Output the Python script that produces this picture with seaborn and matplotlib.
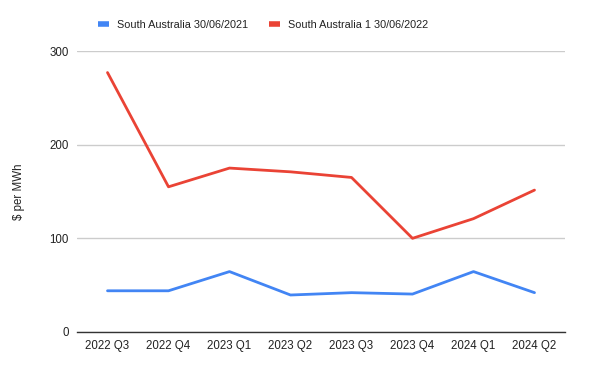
import numpy as np
import pandas as pd
import matplotlib
matplotlib.use("Agg")
import matplotlib.pyplot as plt
import seaborn as sns
from matplotlib.lines import Line2D

quarters = ["2022 Q3", "2022 Q4", "2023 Q1", "2023 Q2", "2023 Q3", "2023 Q4", "2024 Q1", "2024 Q2"]
sa_2021 = [44, 44, 64.5, 39.5, 42, 40.5, 64.5, 42]
sa_2022 = [277, 155, 175, 171, 165, 100, 121, 151.5]
series_names = ["South Australia 30/06/2021", "South Australia 1 30/06/2022"]
colors = ["#4285F4", "#EA4335"]

df = pd.concat([
    pd.DataFrame({"Quarter": quarters, "Price": sa_2021, "Series": series_names[0]}),
    pd.DataFrame({"Quarter": quarters, "Price": sa_2022, "Series": series_names[1]}),
], ignore_index=True)
df["x"] = df["Quarter"].map({q: i for i, q in enumerate(quarters)})

sns.set_style("white")
plt.rcParams['font.family'] = ['Liberation Sans', 'DejaVu Sans']

fig = plt.figure(figsize=(6, 3.71), dpi=100)
ax = fig.add_axes([77 / 600, 39 / 371, 488 / 600, 281 / 371])

sns.lineplot(data=df, x="x", y="Price", hue="Series", palette=colors, linewidth=2,
             ax=ax, legend=False)

ax.set_xlim(-0.5, len(quarters) - 0.5)
ax.set_ylim(0, 300)
ax.set_xticks(range(len(quarters)))
ax.set_xticklabels(quarters)
ax.set_yticks([0, 100, 200, 300])
ax.tick_params(axis='both', length=0, labelsize=8.3, labelcolor='#222222', pad=6)
ax.grid(axis='y', color='#cccccc', linewidth=1)
ax.set_axisbelow(True)
for s in ['top', 'right', 'left']:
    ax.spines[s].set_visible(False)
ax.spines['bottom'].set_color('#333333')
ax.spines['bottom'].set_linewidth(1)
ax.set_xlabel("")
ax.set_ylabel("$ per MWh", fontsize=8.3, color='#222222')
ax.yaxis.set_label_coords((25 - 77) / 488, 0.5)

handles = [Line2D([], [], color=c, linewidth=4, solid_capstyle='butt') for c in colors]
fig.legend(handles, series_names, loc='center', bbox_to_anchor=(263 / 600, 1 - 25 / 371),
           ncol=2, frameon=False, fontsize=7.8, handlelength=1.0, columnspacing=2.0,
           handletextpad=0.7, labelcolor='#222222')

fig.savefig("out.png", dpi=100)
